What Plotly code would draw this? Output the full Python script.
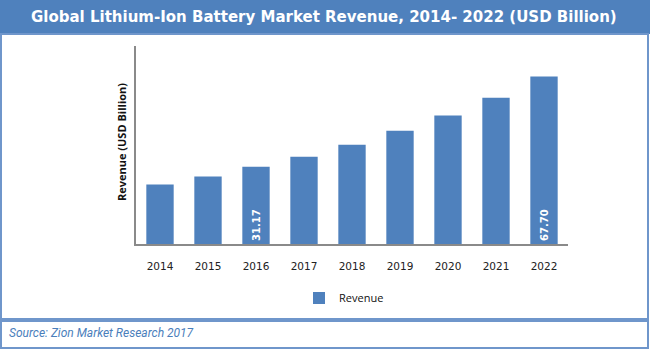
import plotly.graph_objects as go

years = ["2014", "2015", "2016", "2017", "2018", "2019", "2020", "2021", "2022"]
revenue = [24.0, 27.3, 31.17, 35.3, 40.1, 45.8, 51.9, 59.1, 67.70]
labels = ["", "", "31.17", "", "", "", "", "", "67.70"]

BLUE = "#4F81BD"
BORDER = "#6F96CB"

# plot area in pixels: x 136..568, y 46..244
L, R, T, B = 136, 568, 46, 244
def P(x):
    return (x - L) / (R - L)
def Q(y):
    return (B - y) / (B - T)

fig = go.Figure()
fig.add_trace(go.Bar(
    x=years, y=revenue, name="Revenue",
    marker=dict(color=BLUE, line=dict(width=0)),
    text=labels, textposition="inside", insidetextanchor="start",
    textangle=-90,
    textfont=dict(family="DejaVu Sans", size=10, color="white", weight="bold"),
    hoverinfo="skip",
))

fig.update_layout(
    width=650, height=350,
    margin=dict(l=L, r=650 - R, t=T, b=350 - B),
    paper_bgcolor="white", plot_bgcolor="white",
    bargap=0.43,
    showlegend=True,
    legend=dict(orientation="h", x=P(344), xanchor="center", y=Q(298), yanchor="middle",
                itemwidth=30,
                font=dict(family="Open Sans", size=11, color="#111")),
    xaxis=dict(showline=True, linecolor="#8a8a8a", linewidth=1.5,
               ticks="outside", ticklen=12, tickcolor="rgba(0,0,0,0)",
               tickfont=dict(family="DejaVu Sans", size=10.5, color="#222"),
               showgrid=False, zeroline=False, fixedrange=True),
    yaxis=dict(range=[0, 80], showline=True, linecolor="#8a8a8a", linewidth=1.5,
               showticklabels=False, ticks="", showgrid=False, zeroline=False),
    shapes=[
        dict(type="rect", xref="paper", yref="paper", x0=P(0), x1=P(650), y0=Q(34), y1=Q(0),
             fillcolor=BLUE, line=dict(width=0), layer="below"),
        dict(type="rect", xref="paper", yref="paper", x0=P(1), x1=P(648), y0=Q(319), y1=Q(34),
             line=dict(color=BORDER, width=2)),
        dict(type="rect", xref="paper", yref="paper", x0=P(1), x1=P(648), y0=Q(348), y1=Q(321),
             line=dict(color=BORDER, width=2)),
    ],
    annotations=[
        dict(text="Global Lithium-Ion Battery Market Revenue, 2014- 2022 (USD Billion)",
             xref="paper", yref="paper", x=P(324), y=Q(17), xanchor="center", yanchor="middle",
             showarrow=False, font=dict(family="DejaVu Sans", size=15, color="white", weight="bold")),
        dict(text="Revenue (USD Billion)", textangle=-90,
             xref="paper", yref="paper", x=P(121), y=Q(142), xanchor="center", yanchor="middle",
             showarrow=False, font=dict(family="Open Sans", size=11, color="#111", weight="bold")),
        dict(text="Source: Zion Market Research 2017",
             xref="paper", yref="paper", x=P(7), y=Q(333), xanchor="left", yanchor="middle",
             showarrow=False, font=dict(family="Roboto", size=12, color="#4A7EBB", style="italic")),
    ],
)

fig.write_html("out.html")
